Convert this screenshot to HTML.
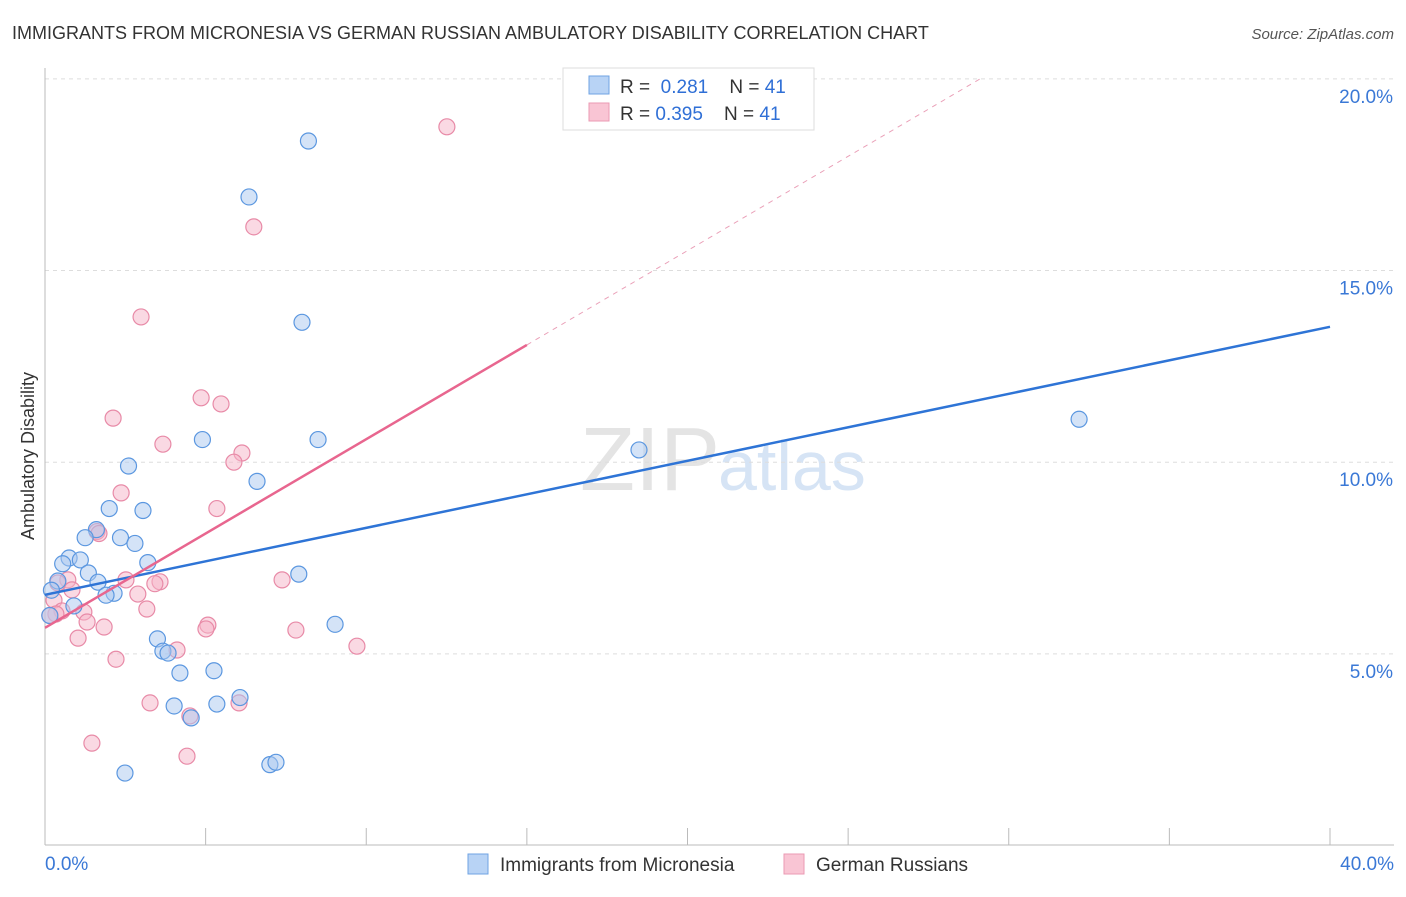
<!DOCTYPE html>
<html><head><meta charset="utf-8"><style>
body{margin:0;background:#fff;font-family:"Liberation Sans",sans-serif}
svg text{font-family:"Liberation Sans",sans-serif}
</style></head><body>
<svg id="chart" width="1406" height="892" xmlns="http://www.w3.org/2000/svg">
<text x="12" y="39" font-size="18" fill="#333">IMMIGRANTS FROM MICRONESIA VS GERMAN RUSSIAN AMBULATORY DISABILITY CORRELATION CHART</text>
<text x="1394" y="39" font-size="15" fill="#555" text-anchor="end" font-style="italic">Source: ZipAtlas.com</text>
<text x="720" y="490" font-size="90" fill="#e4e4e4" text-anchor="end" font-family="Liberation Serif">ZIP</text>
<text x="718" y="490" font-size="70" fill="#d6e4f5">atlas</text>
<text transform="translate(34,456) rotate(-90)" font-size="18" fill="#333" text-anchor="middle">Ambulatory Disability</text>
<g id="grid"></g><g id="axes"></g><g id="marks"></g>
<g>
<rect x="563" y="68" width="251" height="62" fill="#fff" stroke="#ddd"/>
<rect x="589" y="76" width="20" height="18" fill="#b8d3f5" stroke="#6fa3e3"/>
<text x="620" y="93" font-size="19" fill="#333">R = <tspan fill="#2f6fd6">&#160;0.281</tspan>&#160;&#160;&#160;&#160;N = <tspan fill="#2f6fd6">41</tspan></text>
<rect x="589" y="103" width="20" height="18" fill="#f9c5d4" stroke="#eb9ab3"/>
<text x="620" y="120" font-size="19" fill="#333">R = <tspan fill="#2f6fd6">0.395</tspan>&#160;&#160;&#160;&#160;N = <tspan fill="#2f6fd6">41</tspan></text>
</g>
<g>
<rect x="468" y="854" width="20" height="20" fill="#b8d3f5" stroke="#6fa3e3"/>
<text x="500" y="871" font-size="19" fill="#333">Immigrants from Micronesia</text>
<rect x="784" y="854" width="20" height="20" fill="#f9c5d4" stroke="#eb9ab3"/>
<text x="816" y="871" font-size="19" fill="#333">German Russians</text>
</g>
</svg>
<script>
const xTicks=[0,5,10,15,20,25,30,35,40];
const yTicks=[5,10,15,20];
const blueX=[8.2,6.35,8.0,4.9,8.5,2.6,6.6,2.0,3.05,1.6,2.35,1.25,2.8,0.75,1.1,0.55,3.2,1.35,7.9,0.4,1.65,2.15,1.9,0.2,0.9,3.5,3.67,3.83,4.2,5.26,6.07,4.02,5.35,4.55,2.49,7.0,7.19,18.49,32.19,9.03,0.15];
const blueY=[18.38,16.92,13.65,10.59,10.59,9.9,9.5,8.79,8.74,8.24,8.03,8.03,7.88,7.5,7.45,7.35,7.38,7.11,7.08,6.9,6.87,6.58,6.53,6.66,6.25,5.39,5.07,5.02,4.5,4.56,3.86,3.64,3.69,3.33,1.89,2.11,2.17,10.32,11.12,5.77,6.0];
const pinkX=[12.51,6.5,2.99,4.86,5.48,2.12,3.67,6.13,5.88,2.37,5.35,1.62,1.68,2.52,3.58,3.42,7.38,0.71,0.4,0.84,0.28,2.89,0.53,0.34,1.21,3.17,1.31,1.84,5.07,5.01,7.81,1.03,4.11,9.71,2.21,3.27,6.04,4.51,1.46,4.42,0.15];
const pinkY=[18.75,16.14,13.79,11.68,11.52,11.15,10.47,10.24,10.0,9.2,8.79,8.19,8.14,6.93,6.88,6.83,6.93,6.93,6.85,6.67,6.4,6.56,6.12,6.04,6.09,6.17,5.83,5.7,5.75,5.65,5.62,5.41,5.1,5.2,4.86,3.72,3.72,3.38,2.67,2.33,6.0];
const blueFit=[6.54,0.1748];
const pinkFit=[5.68,0.492];
const X=v=>45+v*32.125, Y=v=>845.5-v*38.33;
const NS="http://www.w3.org/2000/svg";
function mk(t,a,p){const e=document.createElementNS(NS,t);for(const k in a)e.setAttribute(k,a[k]);p.appendChild(e);return e;}
const grid=document.getElementById('grid'),axes=document.getElementById('axes'),marks=document.getElementById('marks');
yTicks.forEach(t=>{
const l=mk('line',{x1:45,x2:1394,y1:Y(t),y2:Y(t),stroke:'#ddd','stroke-dasharray':'4,4'},grid);


const tx=mk('text',{x:1393,y:Y(t)+24,'font-size':19,fill:'#3a78d6','text-anchor':'end'},axes);
tx.textContent=t.toFixed(1)+'%';


});
mk('line',{x1:45,x2:45,y1:68,y2:845,stroke:'#bbb'},axes);
mk('line',{x1:45,x2:1394,y1:845,y2:845,stroke:'#bbb'},axes);
xTicks.forEach(t=>{const l=mk('line',{x1:X(t),x2:X(t),y1:828,y2:845,stroke:'#bbb'},axes);

});
[[0,'start'],[40,'end']].forEach(([t,a])=>{const tx=mk('text',{x:t?1394:45,y:870,'font-size':19,fill:'#3a78d6','text-anchor':a},axes);tx.textContent=t.toFixed(1)+'%';

});
function dots(xs,ys,fill,stroke,name){xs.forEach((x,i)=>{const c=mk('circle',{cx:X(x),cy:Y(ys[i]),r:8,fill:fill,'fill-opacity':0.5,stroke:stroke,'stroke-width':1.2},marks);

});}
dots(pinkX,pinkY,'#f6b3c7','#e88aa7','pink-point');
dots(blueX,blueY,'#a9c8f0','#5b97e0','blue-point');
const bl=mk('line',{x1:X(0),y1:Y(blueFit[0]),x2:X(40),y2:Y(blueFit[0]+40*blueFit[1]),stroke:'#2e74d6','stroke-width':2.5},marks);


const pl=mk('line',{x1:X(0),y1:Y(pinkFit[0]),x2:X(15),y2:Y(pinkFit[0]+15*pinkFit[1]),stroke:'#e8668f','stroke-width':2.5},marks);


const xe=(20-pinkFit[0])/pinkFit[1];
const pd=mk('line',{x1:X(15),y1:Y(pinkFit[0]+15*pinkFit[1]),x2:X(xe),y2:Y(20),stroke:'#eaa0b8','stroke-width':1,'stroke-dasharray':'5,5'},marks);


</script>
</body></html>
